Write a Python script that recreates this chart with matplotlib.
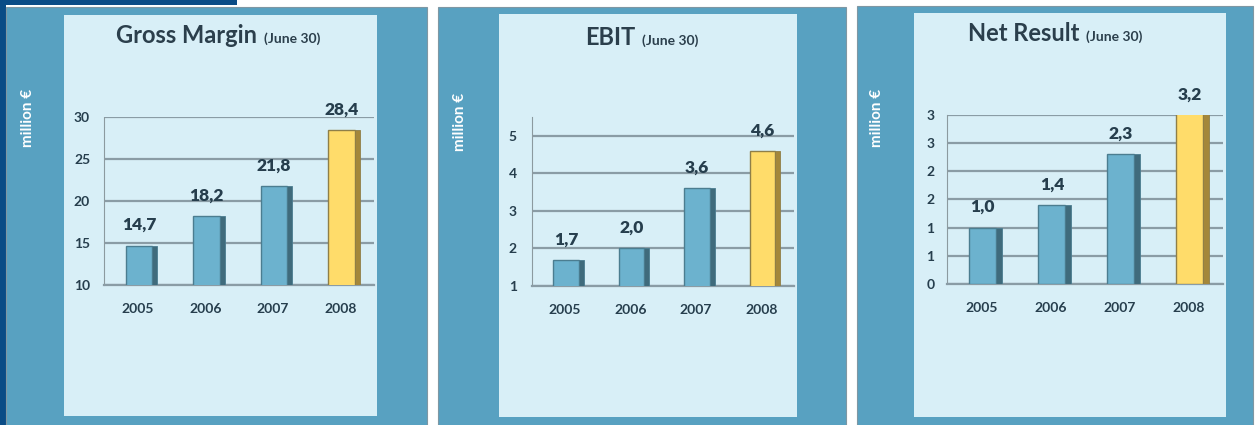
import matplotlib
matplotlib.use("Agg")
import matplotlib.pyplot as plt
from matplotlib.patches import Rectangle
import numpy as np

# data
years = ['2005', '2006', '2007', '2008']
gross_margin = [14.7, 18.2, 21.8, 28.4]
ebit = [1.7, 2.0, 3.6, 4.6]
net_result = [1.0, 1.4, 2.3, 3.2]

gm_ticks = [10, 15, 20, 25, 30]
gm_ticklabels = ['10', '15', '20', '25', '30']
ebit_ticks = [1, 2, 3, 4, 5]
ebit_ticklabels = ['1', '2', '3', '4', '5']
net_ticks = [0, 0.5, 1.0, 1.5, 2.0, 2.5, 3.0]
net_ticklabels = ['0', '1', '1', '2', '2', '3', '3']

W, H = 1257, 425
plt.rcParams['font.family'] = ['Lato', 'DejaVu Sans']

navy = '#0a4c86'
outer = '#58a1c1'
inner = '#d8eff7'
grid_c = '#8a9ca5'
text_c = '#263e4d'
blue_face = '#6cb2ce'
blue_side = '#3f6b7c'
blue_edge = '#4b7d90'
yellow_face = '#ffdc6a'
yellow_side = '#a4873a'
yellow_edge = '#8f7f48'

fig = plt.figure(figsize=(W / 100, H / 100), dpi=100)
fig.patch.set_facecolor('white')


def box(x0, y0, x1, y1, color, ec='none', lw=0):
    # pixel box (top-left origin) -> figure fractions
    fig.patches.append(Rectangle((x0 / W, 1 - y1 / H), (x1 - x0) / W, (y1 - y0) / H,
                                 transform=fig.transFigure, facecolor=color,
                                 edgecolor=ec, linewidth=lw, zorder=0))


# dark frame at the left / top edge
box(0, 0, 6, 425, navy)
box(0, 0, 237, 4.5, navy)

# panels: outer box, inner box, axes box, title centre, ylabel x
panels = [
    dict(outer=(6, 6.5, 427, 426), inner=(64, 14.5, 377, 416), ax=(104, 117, 374, 285),
         title=('Gross Margin', 218, 43), ylab=(28, 118), data=gross_margin,
         ylim=(10, 30), ticks=gm_ticks, ticklabels=gm_ticklabels, xpad=13, ypad=10),
    dict(outer=(438, 7, 846, 426), inner=(499, 14, 797, 417), ax=(532, 117, 794, 286),
         title=('EBIT', 642, 45), ylab=(460, 122), data=ebit,
         ylim=(1, 5.5), ticks=ebit_ticks, ticklabels=ebit_ticklabels, xpad=13, ypad=11),
    dict(outer=(857, 6, 1253, 426), inner=(914, 12.5, 1226, 417), ax=(947, 115, 1223, 284),
         title=('Net Result', 1055, 41), ylab=(877, 118), data=net_result,
         ylim=(0, 3), ticks=net_ticks, ticklabels=net_ticklabels, xpad=13, ypad=9),
]

renderer = fig.canvas.get_renderer()
x = np.arange(len(years))
face_w = 0.39
side_w = 0.075

for p in panels:
    box(*p['outer'], outer, ec='#7f97a3', lw=0.8)
    box(*p['inner'], inner)

    x0, y0, x1, y1 = p['ax']
    ax = fig.add_axes([x0 / W, 1 - y1 / H, (x1 - x0) / W, (y1 - y0) / H])
    ax.set_zorder(2)
    ax.set_facecolor('none')
    ax.set_xlim(-0.5, len(years) - 0.5)
    ax.set_ylim(*p['ylim'])
    ax.set_axisbelow(True)

    vals = p['data']
    faces = [blue_face] * (len(vals) - 1) + [yellow_face]
    sides = [blue_side] * (len(vals) - 1) + [yellow_side]
    edges = [blue_edge] * (len(vals) - 1) + [yellow_edge]
    ax.bar(x + 0.02, vals, width=face_w, color=faces, edgecolor=edges, linewidth=1, zorder=3)
    ax.bar(x + 0.02 + face_w / 2 + side_w / 2, vals, width=side_w, color=sides,
           edgecolor=edges, linewidth=0.6, zorder=3)

    top = p['ylim'][1]
    for xi, v in zip(x, vals):
        ax.annotate(f"{v:.1f}".replace('.', ','), (xi + 0.02, min(v, top)),
                    xytext=(0, 9), textcoords='offset points', ha='center', va='bottom',
                    fontsize=12.5, fontweight='heavy', color=text_c, annotation_clip=False)

    ax.set_yticks(p['ticks'])
    ax.set_yticklabels(p['ticklabels'])
    ax.set_xticks(x)
    ax.set_xticklabels(years)
    ax.yaxis.grid(True, color=grid_c, linewidth=1.6, zorder=1)
    ax.tick_params(axis='both', length=0, labelsize=10, labelcolor=text_c)
    ax.tick_params(axis='x', pad=p['xpad'])
    ax.tick_params(axis='y', pad=p['ypad'])
    for lab in ax.get_xticklabels() + ax.get_yticklabels():
        lab.set_fontweight('bold')
    for s in ['top', 'right']:
        ax.spines[s].set_visible(False)
    ax.spines['bottom'].set_color(grid_c)
    ax.spines['bottom'].set_linewidth(1.6)
    ax.spines['left'].set_color('#8c9a9f')
    ax.spines['left'].set_linewidth(0.8)
    ax.spines['left'].set_linestyle((0, (1, 1)))

    # y label on the dark strip
    lx, ly = p['ylab']
    fig.text(lx / W, 1 - ly / H, 'million €', rotation=90, ha='center', va='center',
             fontsize=11, fontweight='bold', color='white')

    # title: big bold text followed by small "(June 30)"
    big, cx, by = p['title']
    t1 = fig.text(0, 1 - by / H, big, fontsize=17, fontweight='bold', color='#2b3f4c',
                  ha='left', va='baseline')
    t2 = fig.text(0, 1 - by / H, '(June 30)', fontsize=10, fontweight='bold', color='#2b3f4c',
                  ha='left', va='baseline')
    w1 = t1.get_window_extent(renderer).width
    w2 = t2.get_window_extent(renderer).width
    start = cx - (w1 + 7 + w2) / 2
    t1.set_x(start / W)
    t2.set_x((start + w1 + 7) / W)

fig.savefig('out.png', dpi=100)
